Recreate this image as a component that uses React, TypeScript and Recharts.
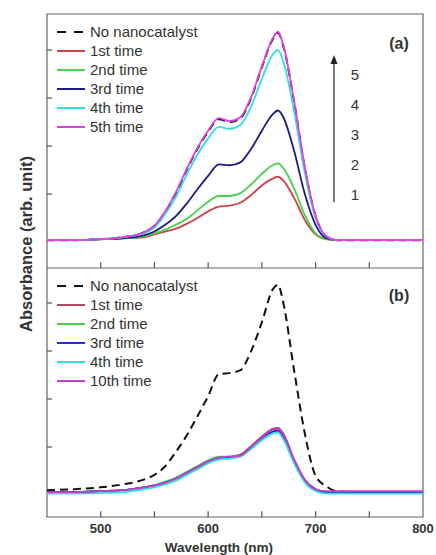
import React from 'react';
import {
  Legend,
  Line,
  LineChart,
  ReferenceArea,
  ReferenceDot,
  XAxis,
  YAxis,
} from 'recharts';

// wavelength grid (nm)
const wavelengths = [450, 475, 500, 520, 540, 550, 560, 570, 580, 590, 600, 610, 620, 630, 640, 650, 660, 665, 670, 680, 690, 700, 710, 720, 740, 760, 780, 800];

// panel (a)
const aNone = [0.02, 0.02, 0.03, 0.05, 0.10, 0.17, 0.31, 0.51, 0.75, 0.97, 1.15, 1.28, 1.25, 1.29, 1.50, 1.82, 2.11, 2.18, 2.04, 1.46, 0.77, 0.27, 0.06, 0.02, 0.02, 0.02, 0.02, 0.02];
const a1 = [0.02, 0.02, 0.03, 0.04, 0.05, 0.08, 0.11, 0.14, 0.19, 0.25, 0.32, 0.37, 0.38, 0.41, 0.49, 0.59, 0.66, 0.68, 0.64, 0.46, 0.23, 0.08, 0.03, 0.02, 0.02, 0.02, 0.02, 0.02];
const a2 = [0.02, 0.02, 0.03, 0.04, 0.06, 0.09, 0.13, 0.18, 0.24, 0.33, 0.42, 0.48, 0.48, 0.51, 0.60, 0.71, 0.80, 0.82, 0.77, 0.56, 0.28, 0.09, 0.03, 0.02, 0.02, 0.02, 0.02, 0.02];
const a3 = [0.02, 0.02, 0.03, 0.04, 0.07, 0.11, 0.18, 0.27, 0.40, 0.55, 0.69, 0.81, 0.80, 0.83, 0.97, 1.16, 1.33, 1.37, 1.30, 0.95, 0.50, 0.18, 0.04, 0.02, 0.02, 0.02, 0.02, 0.02];
const a4 = [0.02, 0.02, 0.03, 0.05, 0.09, 0.15, 0.29, 0.47, 0.70, 0.91, 1.08, 1.20, 1.18, 1.22, 1.41, 1.70, 1.95, 2.00, 1.88, 1.36, 0.72, 0.25, 0.06, 0.02, 0.02, 0.02, 0.02, 0.02];
const a5 = [0.02, 0.02, 0.03, 0.05, 0.10, 0.17, 0.32, 0.52, 0.76, 0.98, 1.16, 1.29, 1.26, 1.30, 1.51, 1.83, 2.12, 2.19, 2.05, 1.47, 0.78, 0.27, 0.06, 0.02, 0.02, 0.02, 0.02, 0.02];

// panel (b)
const bNone = [0.05, 0.06, 0.08, 0.11, 0.16, 0.21, 0.30, 0.45, 0.62, 0.82, 1.03, 1.26, 1.27, 1.30, 1.50, 1.80, 2.14, 2.19, 2.00, 1.30, 0.64, 0.20, 0.09, 0.04, 0.03, 0.03, 0.03, 0.03];
const b1 = [0.03, 0.03, 0.04, 0.05, 0.08, 0.10, 0.13, 0.18, 0.24, 0.30, 0.36, 0.39, 0.40, 0.42, 0.51, 0.61, 0.69, 0.70, 0.64, 0.37, 0.16, 0.06, 0.03, 0.03, 0.03, 0.03, 0.03, 0.03];
const b2 = [0.03, 0.03, 0.04, 0.05, 0.08, 0.10, 0.14, 0.18, 0.24, 0.30, 0.36, 0.40, 0.40, 0.41, 0.50, 0.59, 0.66, 0.67, 0.60, 0.35, 0.15, 0.05, 0.03, 0.03, 0.03, 0.03, 0.03, 0.03];
const b3 = [0.03, 0.03, 0.04, 0.05, 0.08, 0.10, 0.13, 0.17, 0.23, 0.29, 0.35, 0.38, 0.39, 0.41, 0.50, 0.59, 0.66, 0.67, 0.60, 0.35, 0.15, 0.06, 0.03, 0.03, 0.03, 0.03, 0.03, 0.03];
const b4 = [0.015, 0.015, 0.02, 0.03, 0.06, 0.08, 0.11, 0.15, 0.21, 0.27, 0.33, 0.37, 0.38, 0.40, 0.48, 0.57, 0.64, 0.65, 0.58, 0.33, 0.13, 0.04, 0.015, 0.015, 0.015, 0.015, 0.015, 0.015];
const b10 = [0.03, 0.03, 0.04, 0.05, 0.08, 0.10, 0.13, 0.17, 0.23, 0.29, 0.35, 0.39, 0.40, 0.41, 0.50, 0.60, 0.68, 0.69, 0.63, 0.37, 0.16, 0.06, 0.04, 0.04, 0.04, 0.04, 0.04, 0.04];

const xTicks = [500, 550, 600, 650, 700, 750, 800];
const yTicks = [0.5, 1, 1.5, 2];
const arrowLabels = ['5', '4', '3', '2', '1'];

const seriesA = [
  { key: 'none', name: 'No nanocatalyst', color: '#111111', dash: '8 5', values: aNone },
  { key: 't1', name: '1st time', color: '#d0404c', dash: undefined, values: a1 },
  { key: 't2', name: '2nd time', color: '#48d048', dash: undefined, values: a2 },
  { key: 't3', name: '3rd time', color: '#1c1c80', dash: undefined, values: a3 },
  { key: 't4', name: '4th time', color: '#30e0e0', dash: undefined, values: a4 },
  { key: 't5', name: '5th time', color: '#e040e0', dash: undefined, values: a5 },
];

const seriesB = [
  { key: 'none', name: 'No nanocatalyst', color: '#111111', dash: '8 5', values: bNone },
  { key: 't1', name: '1st time', color: '#b04a60', dash: undefined, values: b1 },
  { key: 't2', name: '2nd time', color: '#48d048', dash: undefined, values: b2 },
  { key: 't3', name: '3rd time', color: '#2a2ad0', dash: undefined, values: b3 },
  { key: 't4', name: '4th time', color: '#30e0e0', dash: undefined, values: b4 },
  { key: 't10', name: '10th time', color: '#c040c8', dash: undefined, values: b10 },
];

const toRows = (series) =>
  wavelengths.map((w, i) => {
    const row: any = { w };
    series.forEach((s) => (row[s.key] = s.values[i]));
    return row;
  });

const dataA = toRows(seriesA);
const dataB = toRows(seriesB);

const FONT = '"Liberation Sans", Arial, sans-serif';
const FRAME = '#666';
const X_DOMAIN = [450, 800];
const TICK_PX = 5;
// x tick marks hang from just above the bottom frame (in data units, ~6px)
const X_TICK_LIFT = 0.06;

const XLabel = ({ x, y, payload, labels }: any) =>
  labels && payload.value % 100 === 0 ? (
    <text x={x} y={y + 16} textAnchor="middle" fontFamily={FONT} fontSize={13} fontWeight="bold" fill="#333">
      {payload.value}
    </text>
  ) : (
    <g />
  );

// inward tick marks, placed by the chart scales through ReferenceDot
const XTickMark = ({ cx, cy }: any) => <rect x={cx - 0.6} y={cy} width={1.2} height={TICK_PX + 1} fill="#555" />;
const YTickMark = ({ cx, cy }: any) => <rect x={cx} y={cy - 0.6} width={TICK_PX} height={1.2} fill="#555" />;

const makeLegend = (series) => () => (
  <div style={{ fontFamily: FONT, fontSize: 15, color: '#333' }}>
    {series.map((s) => (
      <div key={s.key} style={{ display: 'flex', alignItems: 'center', height: 19 }}>
        <svg width={34} height={10}>
          <line x1={1} x2={29} y1={5} y2={5} stroke={s.color} strokeWidth={2} strokeDasharray={s.dash ? '9 8' : undefined} />
        </svg>
        <span>{s.name}</span>
      </div>
    ))}
  </div>
);

function Panel({ data, series, domain, height, bottom, labels }) {
  return (
    <LineChart width={436} height={height} data={data} margin={{ top: bottom ? 0 : 14, right: 13, left: 47, bottom: 0 }}>
      <XAxis
        dataKey="w"
        type="number"
        domain={X_DOMAIN}
        ticks={xTicks}
        interval={0}
        height={bottom}
        axisLine={false}
        tickLine={false}
        tickSize={0}
        tickMargin={0}
        tick={<XLabel labels={labels} />}
        label={labels ? { value: 'Wavelength (nm)', position: 'insideBottom', offset: 3, dx: -16, style: { fontFamily: FONT, fontSize: 13.5, fontWeight: 'bold', fill: '#333' } } : undefined}
      />
      <YAxis type="number" domain={domain} ticks={yTicks} width={0} axisLine={false} tickLine={false} tick={false} allowDataOverflow />
      <ReferenceArea x1={X_DOMAIN[0]} x2={X_DOMAIN[1]} y1={domain[0]} y2={domain[1]} fill="none" stroke={FRAME} strokeWidth={1.2} />
      {xTicks.slice(0, -1).map((t) => (
        <ReferenceDot key={'xt' + t} x={t} y={domain[0] + X_TICK_LIFT} r={3} ifOverflow="visible" shape={XTickMark} />
      ))}
      {yTicks.map((t) => (
        <ReferenceDot key={'yt' + t} x={X_DOMAIN[0]} y={t} r={3} ifOverflow="visible" shape={YTickMark} />
      ))}
      {series.map((s) => (
        <Line
          key={s.key}
          type="monotone"
          dataKey={s.key}
          name={s.name}
          stroke={s.color}
          strokeWidth={s.dash ? 2 : 1.8}
          strokeDasharray={s.dash}
          dot={false}
          isAnimationActive={false}
        />
      ))}
      <Legend
        layout="vertical"
        align="center"
        verticalAlign="middle"
        content={makeLegend(series)}
        wrapperStyle={{ top: bottom ? 8 : 22, left: 56, width: 'auto', height: 'auto' }}
      />
    </LineChart>
  );
}

export default function App() {
  return (
    <div style={{ position: 'absolute', left: 0, top: 0, width: 436, height: 555, background: '#fff' }}>
      <div style={{ position: 'absolute', left: 0, top: 0 }}>
        <Panel data={dataA} series={seriesA} domain={[-0.27, 2.375]} height={268} bottom={0} labels={false} />
      </div>
      <div style={{ position: 'absolute', left: 0, top: 268 }}>
        <Panel data={dataB} series={seriesB} domain={[-0.229, 2.365]} height={287} bottom={38} labels={true} />
      </div>
      <div
        style={{
          position: 'absolute',
          left: 26,
          top: 244,
          transform: 'translate(-50%, -50%) rotate(-90deg)',
          whiteSpace: 'nowrap',
          fontFamily: FONT,
          fontSize: 16.5,
          fontWeight: 'bold',
          color: '#333',
        }}
      >
        Absorbance (arb. unit)
      </div>
      <svg width={436} height={555} style={{ position: 'absolute', left: 0, top: 0, pointerEvents: 'none' }}>
        <text x={399} y={49} textAnchor="middle" fontFamily={FONT} fontSize={16} fontWeight="bold" fill="#333">(a)</text>
        <text x={399} y={301} textAnchor="middle" fontFamily={FONT} fontSize={16} fontWeight="bold" fill="#333">(b)</text>
        <line x1={334} x2={334} y1={202} y2={62} stroke="#333" strokeWidth={1.3} />
        <path d="M334 55 L330.5 64 L337.5 64 Z" fill="#222" />
        {arrowLabels.map((t, i) => (
          <text key={t} x={355} y={80 + i * 30} textAnchor="middle" fontFamily={FONT} fontSize={15} fill="#333">{t}</text>
        ))}
      </svg>
    </div>
  );
}
